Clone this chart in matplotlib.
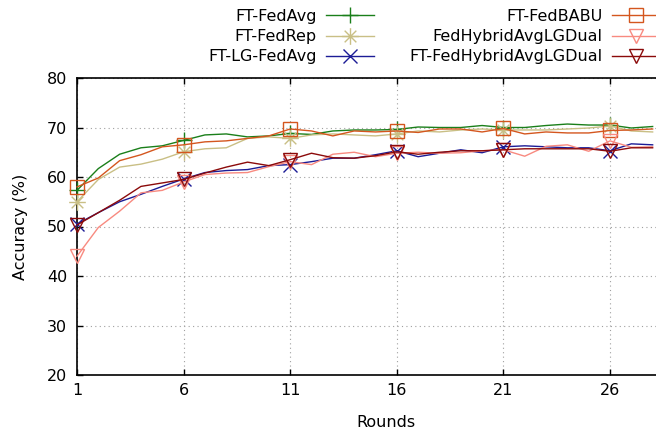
import matplotlib
matplotlib.use("Agg")
import matplotlib.pyplot as plt
import numpy as np
from matplotlib.path import Path

rounds = list(range(1, 29))
ft_fedavg = [57.3, 61.7, 64.6, 65.9, 66.3, 67.4, 68.5, 68.7, 68.1, 68.3, 68.8, 68.6, 69.3, 69.5,
             69.5, 69.6, 70.1, 70.0, 70.0, 70.4, 70.0, 70.0, 70.4, 70.7, 70.5, 70.5, 69.9, 70.2]
ft_fedrep = [55.0, 59.5, 62.0, 62.6, 63.6, 65.1, 65.7, 65.9, 67.8, 68.1, 67.8, 68.5, 68.7, 68.5,
             68.3, 68.7, 69.3, 69.1, 69.5, 69.7, 69.5, 69.5, 69.5, 69.7, 69.9, 70.3, 69.3, 69.1]
ft_lg_fedavg = [50.5, 52.8, 55.0, 56.5, 58.1, 59.6, 60.9, 61.3, 61.5, 62.3, 62.5, 63.1, 63.8, 63.8,
                64.5, 65.3, 64.1, 64.8, 65.5, 64.9, 66.1, 66.3, 66.1, 65.9, 65.9, 65.3, 66.7, 66.5]
ft_fedbabu = [58.0, 59.8, 63.3, 64.5, 66.1, 66.5, 67.1, 67.3, 67.8, 68.3, 69.7, 69.3, 68.3, 69.3,
              69.1, 69.3, 69.0, 69.7, 69.7, 69.1, 69.8, 68.7, 69.1, 68.9, 68.9, 69.4, 69.5, 69.7]
fedhybrid = [44.0, 49.8, 53.1, 56.8, 57.3, 59.0, 60.5, 60.8, 60.9, 62.1, 63.1, 62.5, 64.6, 65.0,
             64.1, 64.8, 65.0, 64.8, 64.9, 65.3, 65.5, 64.2, 66.2, 66.5, 65.2, 67.3, 66.0, 66.1]
ft_fedhybrid = [50.3, 52.8, 55.3, 58.1, 58.8, 59.5, 60.8, 62.0, 63.0, 62.3, 63.5, 64.8, 63.9, 63.8,
                64.3, 65.1, 64.6, 65.0, 65.3, 65.3, 65.5, 65.7, 65.7, 65.7, 65.7, 65.2, 65.9, 65.9]

x_ticks = [1, 6, 11, 16, 21, 26]
y_ticks = [20, 30, 40, 50, 60, 70, 80]

plt.rcParams['font.family'] = ['DejaVu Sans']
W, H = 656, 434
fig = plt.figure(figsize=(W / 100, H / 100), dpi=100)
left, right, bottom, top = 77, 656, 375, 78
ax = fig.add_axes([left / W, 1 - bottom / H, (right - left) / W, (bottom - top) / H])

series = [
    ("FT-FedAvg", ft_fedavg, "#1a7f1a", "+"),
    ("FT-FedRep", ft_fedrep, "#c9bf85", "*"),
    ("FT-LG-FedAvg", ft_lg_fedavg, "#1c1c96", "x"),
    ("FT-FedBABU", ft_fedbabu, "#d4561e", "s"),
    ("FedHybridAvgLGDual", fedhybrid, "#f88a80", "v"),
    ("FT-FedHybridAvgLGDual", ft_fedhybrid, "#8b0a0a", "v"),
]

ast = Path([(-1, 0), (1, 0), (0, -1), (0, 1), (-0.7, -0.7), (0.7, 0.7), (-0.7, 0.7), (0.7, -0.7)],
           [Path.MOVETO, Path.LINETO] * 4)

for label, vals, color, mk in series:
    marker = ast if mk == "*" else mk
    ms = {"+": 12, "*": 12, "x": 10, "s": 10, "v": 10}[mk]
    ax.plot(rounds, vals, color=color, lw=1.0, marker=marker, markevery=5,
            markersize=ms, markerfacecolor="none",
            markeredgecolor=color, markeredgewidth=1.0, label=label, clip_on=False,
            zorder=3)

ax.set_xlim(1, 1 + (right - left) / 21.32)
ax.set_ylim(20, 80)
ax.set_xticks(x_ticks)
ax.set_yticks(y_ticks)
ax.grid(True, color="#a0a0a0", linestyle=(0, (1, 3)), linewidth=0.8)
ax.set_axisbelow(True)
ax.tick_params(direction="in", length=4, width=1.0, top=True, right=False,
               labelsize=11.5, pad=7, colors="black")
ax.tick_params(axis="x", pad=6)
for s in ["left", "top", "bottom"]:
    ax.spines[s].set_linewidth(1.2)
    ax.spines[s].set_zorder(2.5)
ax.spines["right"].set_visible(False)

ax.set_ylabel("Accuracy (%)", fontsize=11.5)
ax.set_xlabel("Rounds", fontsize=11.5)
ax.yaxis.set_label_coords(-0.085, 0.5)
ax.xaxis.set_label_coords((386 - left) / (right - left), -0.135)

leg = fig.legend(loc="upper right", bbox_to_anchor=(660 / W, 1 - 9 / H), ncol=2,
                 markerfirst=False, frameon=False, fontsize=11.5, handlelength=3.0,
                 handletextpad=0.6, columnspacing=2.2, labelspacing=0.32,
                 borderpad=0, borderaxespad=0)

fig.savefig("out.png", dpi=100)
